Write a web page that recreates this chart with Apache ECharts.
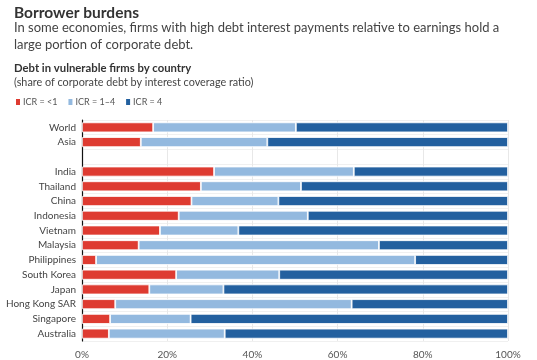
<!DOCTYPE html>
<html><head><meta charset="utf-8">
<script src="https://cdn.jsdelivr.net/npm/echarts@6/dist/echarts.min.js"></script>
<style>html,body{margin:0;padding:0;background:#fff}#c{width:537px;height:360px}</style>
</head><body><div id="c"></div>
<script>
const categories = ['World','Asia','','India','Thailand','China','Indonesia','Vietnam','Malaysia','Philippines','South Korea','Japan','Hong Kong SAR','Singapore','Australia'];
const icrBelow1 = [16.7,13.8,null,31.0,27.9,25.7,22.7,18.3,13.3,3.3,22.1,15.8,7.8,6.6,6.3];
const icr1to4   = [33.5,29.7,null,32.8,23.5,20.4,30.3,18.4,56.4,74.9,24.2,17.4,55.5,18.9,27.2];
const icr4      = [49.8,56.5,null,36.2,48.6,53.9,47.0,63.3,30.3,21.8,53.7,66.8,36.7,74.5,66.5];
const seriesNames = ['ICR = <1','ICR = 1–4','ICR = 4'];
const colors = ['#de3b31','#93b9df','#23609f'];
const xTicks = ['0%','20%','40%','60%','80%','100%'];

const FONT = 'Lato';
const chart = echarts.init(document.getElementById('c'));
const mk = (name, data, color) => ({
  name, type:'bar', stack:'t', data, barWidth: 10,
  itemStyle:{color, borderColor:'#ffffff', borderWidth:0.8},
  emphasis:{disabled:true}
});
chart.setOption({
  animation:false,
  textStyle:{fontFamily:FONT},
  title:[
    {text:'Borrower burdens', left:9, top:0, textStyle:{fontFamily:FONT,fontSize:15.5,fontWeight:'bold',color:'#333'}},
    {text:'In some economies, firms with high debt interest payments relative to earnings hold a\nlarge portion of corporate debt.', left:9, top:14, textStyle:{fontFamily:FONT,fontSize:13,fontWeight:'normal',color:'#444',lineHeight:17}},
    {text:'Debt in vulnerable firms by country', left:9, top:58, textStyle:{fontFamily:FONT,fontSize:11.3,fontWeight:'bold',color:'#333'}},
    {text:'(share of corporate debt by interest coverage ratio)', left:9, top:72, textStyle:{fontFamily:FONT,fontSize:10.8,fontWeight:'normal',color:'#444'}}
  ],
  legend:{left:9, top:92, icon:'rect', itemWidth:6, itemHeight:8, itemGap:9,
    textStyle:{fontFamily:FONT,fontSize:9,color:'#555',padding:[0,0,0,-3]}, data:seriesNames, selectedMode:false},
  grid:{left:82, right:29, top:120, bottom:12},
  xAxis:{type:'value', min:0, max:100, interval:20,
    axisLine:{show:false}, axisTick:{show:false},
    splitLine:{lineStyle:{color:'#e8e8e8',width:1}},
    axisLabel:{fontFamily:FONT,fontSize:10,color:'#555',margin:9,
      formatter:(v)=>xTicks[Math.round(v/20)]}},
  yAxis:{type:'category', data:categories, inverse:true,
    axisLine:{show:true,lineStyle:{color:'#111',width:1.2}}, axisTick:{show:false},
    splitLine:{show:true,lineStyle:{color:'#f0f0f0',width:1}},
    axisLabel:{fontFamily:FONT,fontSize:10,color:'#444',margin:6}},
  series:[
    mk(seriesNames[0], icrBelow1, colors[0]),
    mk(seriesNames[1], icr1to4, colors[1]),
    mk(seriesNames[2], icr4, colors[2])
  ]
});
</script></body></html>
